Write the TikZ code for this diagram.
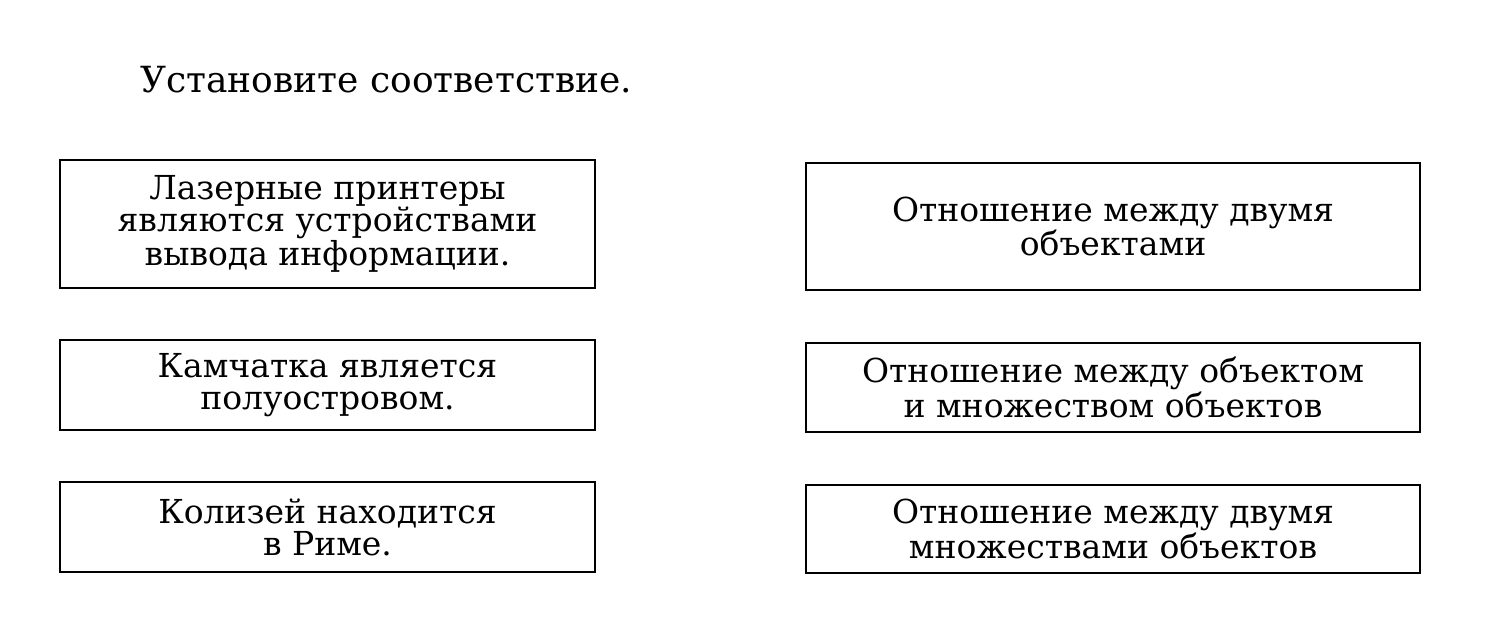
\documentclass[tikz,border=0pt]{standalone}
\usepackage{fontspec}
\setmainfont{DejaVu Serif}
\begin{document}
\begin{tikzpicture}[x=0.5pt,y=-0.5pt,
  box/.style={draw,line width=1pt,align=center,inner sep=0pt,font=\fontsize{16.5}{16}\selectfont}]
\useasboundingbox (0,0) rectangle (1486,626);
\node[anchor=west,font=\fontsize{18}{20}\selectfont] (title) at (133,80) {Установите соответствие.};
\node[box,minimum width=267.5pt,minimum height=64pt] (l1) at (327.5,224) {Лазерные принтеры\\являются устройствами\\вывода информации.};
\node[box,minimum width=267.5pt,minimum height=45pt] (l2) at (327.5,385) {Камчатка является\\полуостровом.};
\node[box,minimum width=267.5pt,minimum height=45pt] (l3) at (327.5,527) {Колизей находится\\в Риме.};
\node[box,minimum width=307pt,minimum height=63.5pt] (r1) at (1113,226.5) {Отношение между двумя\\объектами};
\node[box,minimum width=307pt,minimum height=44.5pt] (r2) at (1113,387.5) {Отношение между объектом\\и множеством объектов};
\node[box,minimum width=307pt,minimum height=44pt] (r3) at (1113,529) {Отношение между двумя\\множествами объектов};
\end{tikzpicture}
\end{document}
